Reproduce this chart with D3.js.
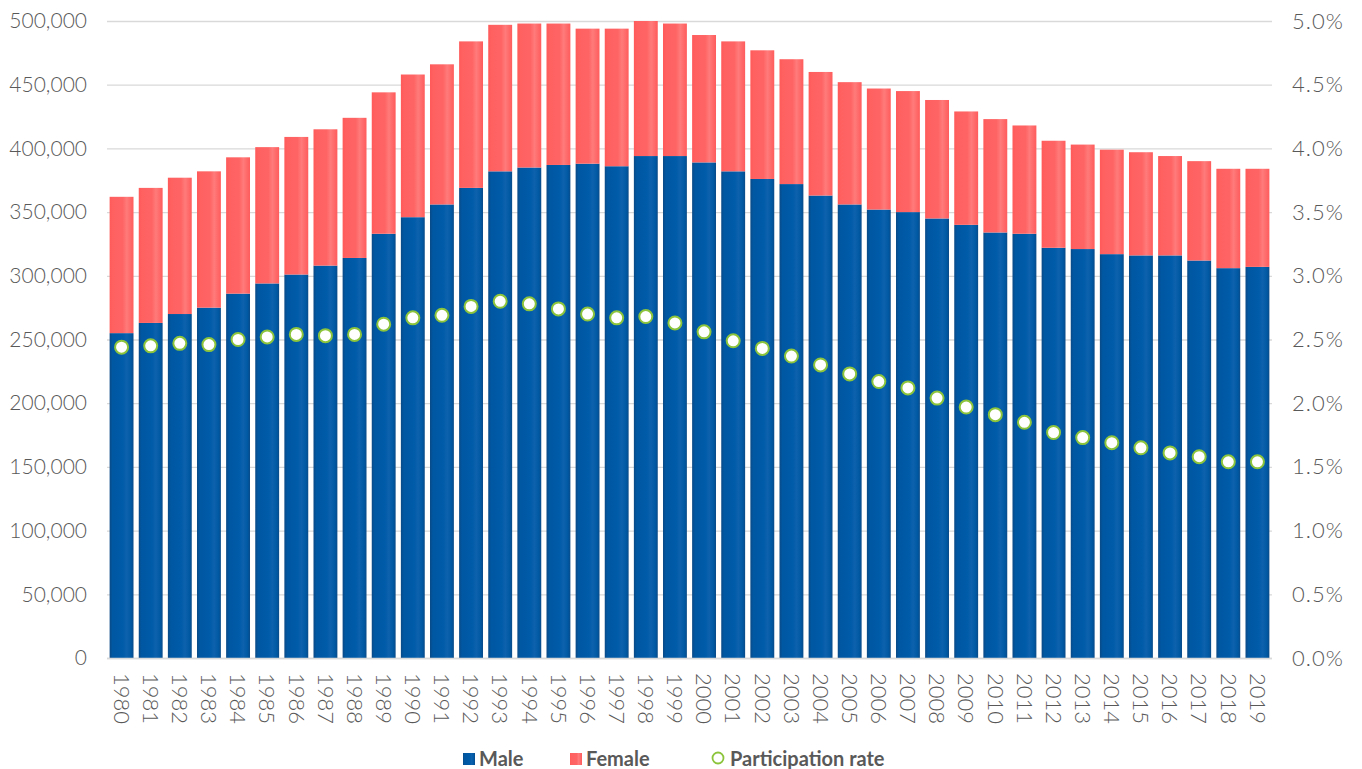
<!DOCTYPE html>
<html>
<head>
<meta charset="utf-8">
<script src="https://cdn.jsdelivr.net/npm/d3@7"></script>
<style>
  body { margin: 0; background: #fff; }
  svg { display: block; }
</style>
</head>
<body>
<div id="vis"></div>
<script>
const years = d3.range(1980, 2020).map(String);
const totals = [362000, 369000, 377000, 382000, 393000, 401000, 409000, 415000, 424000, 444000,
  458000, 466000, 484000, 497000, 498000, 498000, 494000, 494000, 500000, 498000,
  489000, 484000, 477000, 470000, 460000, 452000, 447000, 445000, 438000, 429000,
  423000, 418000, 406000, 403000, 399000, 397000, 394000, 390000, 384000, 384000];
const male = [255000, 263000, 270000, 275000, 286000, 294000, 301000, 308000, 314000, 333000,
  346000, 356000, 369000, 382000, 385000, 387000, 388000, 386000, 394000, 394000,
  389000, 382000, 376000, 372000, 363000, 356000, 352000, 350000, 345000, 340000,
  334000, 333000, 322000, 321000, 317000, 316000, 316000, 312000, 306000, 307000];
const female = totals.map((t, i) => t - male[i]);
const rate = [2.44, 2.45, 2.47, 2.46, 2.50, 2.52, 2.54, 2.53, 2.54, 2.62,
  2.67, 2.69, 2.76, 2.80, 2.78, 2.74, 2.70, 2.67, 2.68, 2.63,
  2.56, 2.49, 2.43, 2.37, 2.30, 2.23, 2.17, 2.12, 2.04, 1.97,
  1.91, 1.85, 1.77, 1.73, 1.69, 1.65, 1.61, 1.58, 1.54, 1.54];
const leftTicks = d3.range(0, 500001, 50000);
const rightTicks = d3.range(0, 5.01, 0.5);

const WIDTH = 1362, HEIGHT = 769;
const X0 = 107, X1 = 1272, Y0 = 658, Y1 = 21;
const FONT = 'Lato, "Liberation Sans", sans-serif';

const svg = d3.select('#vis').append('svg')
  .attr('width', WIDTH).attr('height', HEIGHT);

const defs = svg.append('defs');
function grad(id, stops) {
  const g = defs.append('linearGradient').attr('id', id)
    .attr('x1', '0%').attr('x2', '100%').attr('y1', '0%').attr('y2', '0%');
  stops.forEach(s => g.append('stop').attr('offset', s[0]).attr('stop-color', s[1]));
}
grad('gMale', [[0, '#0b4a86'], [0.12, '#0057a2'], [0.55, '#005ba8'], [0.72, '#0e62ad'], [0.9, '#0058a3'], [1, '#0a4b88']]);
grad('gFemale', [[0, '#ff5a5a'], [0.15, '#ff6161'], [0.55, '#ff6464'], [0.72, '#ff7b7b'], [0.9, '#ff6666'], [1, '#ff5c5c']]);

const x = d3.scaleBand().domain(years).range([X0, X1]).paddingInner(0.18).paddingOuter(0.09);
const y = d3.scaleLinear().domain([0, 500000]).range([Y0, Y1]);
const y2 = d3.scaleLinear().domain([0, 5]).range([Y0, Y1]);

// gridlines
svg.append('g').selectAll('line').data(leftTicks).join('line')
  .attr('x1', X0).attr('x2', X1)
  .attr('y1', d => y(d) + 0.5).attr('y2', d => y(d) + 0.5)
  .attr('stroke', '#d9d9d9').attr('stroke-width', 1.3);

// left axis
const leftAxis = svg.append('g').attr('transform', `translate(${X0 - 20},0)`)
  .call(d3.axisLeft(y).tickValues(leftTicks).tickFormat(d3.format(',')).tickSize(0).tickPadding(0));
leftAxis.select('.domain').remove();
leftAxis.selectAll('text').attr('font-family', FONT).attr('font-size', 21).attr('font-weight', 300)
  .attr('fill', '#595959');

// right axis
const rightAxis = svg.append('g').attr('transform', `translate(${X1 + 20},0)`)
  .call(d3.axisRight(y2).tickValues(rightTicks).tickFormat(d => d.toFixed(1) + '%').tickSize(0).tickPadding(0));
rightAxis.select('.domain').remove();
rightAxis.selectAll('text').attr('font-family', FONT).attr('font-size', 22).attr('font-weight', 300)
  .attr('letter-spacing', 1).attr('fill', '#595959');

// bars
const bars = svg.append('g');
bars.selectAll('rect.male').data(years).join('rect').attr('class', 'male')
  .attr('x', d => x(d)).attr('width', x.bandwidth())
  .attr('y', (d, i) => y(male[i])).attr('height', (d, i) => Y0 - y(male[i]))
  .attr('fill', 'url(#gMale)');
bars.selectAll('rect.female').data(years).join('rect').attr('class', 'female')
  .attr('x', d => x(d)).attr('width', x.bandwidth())
  .attr('y', (d, i) => y(totals[i])).attr('height', (d, i) => y(male[i]) - y(totals[i]))
  .attr('fill', 'url(#gFemale)');

// baseline
svg.append('line').attr('x1', X0).attr('x2', X1).attr('y1', Y0 + 0.5).attr('y2', Y0 + 0.5)
  .attr('stroke', '#d9d9d9').attr('stroke-width', 1.5);

// participation dots
svg.append('g').selectAll('circle').data(years).join('circle')
  .attr('cx', d => x(d) + x.bandwidth() / 2)
  .attr('cy', (d, i) => y2(rate[i]))
  .attr('r', 6.5)
  .attr('fill', '#fff').attr('stroke', '#8cc43c').attr('stroke-width', 2);

// year labels
svg.append('g').selectAll('text').data(years).join('text')
  .attr('transform', d => `translate(${x(d) + x.bandwidth() / 2},${Y0 + 15}) rotate(90)`)
  .attr('dy', '0.35em')
  .attr('font-family', FONT).attr('font-size', 22).attr('font-weight', 300)
  .attr('fill', '#595959')
  .text(d => d);

// legend
const legend = svg.append('g').attr('font-family', FONT).attr('font-size', 20).attr('font-weight', 700)
  .attr('fill', '#595959');
legend.append('rect').attr('x', 463).attr('y', 753).attr('width', 12).attr('height', 12).attr('fill', 'url(#gMale)');
legend.append('text').attr('x', 479).attr('y', 766).text('Male');
legend.append('rect').attr('x', 570).attr('y', 753).attr('width', 12).attr('height', 12).attr('fill', 'url(#gFemale)');
legend.append('text').attr('x', 586).attr('y', 766).text('Female');
legend.append('circle').attr('cx', 718).attr('cy', 758).attr('r', 5.5)
  .attr('fill', '#fff').attr('stroke', '#8cc43c').attr('stroke-width', 1.8);
legend.append('text').attr('x', 730).attr('y', 766).text('Participation rate');
</script>
</body>
</html>
